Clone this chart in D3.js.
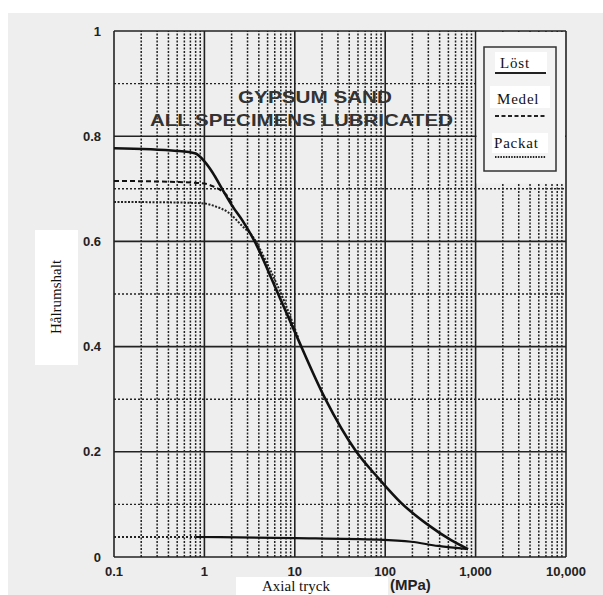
<!DOCTYPE html>
<html><head><meta charset="utf-8">
<script src="https://cdnjs.cloudflare.com/ajax/libs/d3/7.8.5/d3.min.js"></script>
<style>html,body{margin:0;padding:0;background:#fff;}svg{display:block;}</style>
</head><body>
<svg id="c" width="603" height="595"></svg>
<script>
// ---- data ----
const yTicks = [0, 0.2, 0.4, 0.6, 0.8, 1];
const yTickLabels = ["0", "0.2", "0.4", "0.6", "0.8", "1"];
const xTicks = [0.1, 1, 10, 100, 1000, 10000];
const xTickLabels = ["0.1", "1", "10", "100", "1,000", "10,000"];

// Löst (loading + unloading)
const lostPressure = [0.1, 0.5, 0.8, 1.0, 1.23, 1.58, 2.04, 2.63, 3.6, 6, 10, 21.4, 48, 84, 150, 298, 536, 825];
const lostVoid     = [0.777, 0.772, 0.767, 0.752, 0.731, 0.699, 0.667, 0.640, 0.600, 0.515, 0.428, 0.303, 0.200, 0.150, 0.103, 0.061, 0.032, 0.015];
const unloadPressure = [0.8, 10, 84, 194, 385, 825];
const unloadVoid     = [0.038, 0.036, 0.033, 0.029, 0.021, 0.015];
const unloadExtPressure = [0.1, 0.8];
const unloadExtVoid     = [0.038, 0.038];
// Medel
const medelPressure = [0.1, 0.5, 1.0, 1.23, 1.58, 1.84, 2.1];
const medelVoid     = [0.715, 0.713, 0.710, 0.705, 0.695, 0.684, 0.664];
// Packat
const packatPressure = [0.1, 0.5, 1.0, 1.3, 1.84, 2.63, 3.4, 5, 8, 11];
const packatVoid     = [0.675, 0.674, 0.672, 0.667, 0.655, 0.629, 0.610, 0.556, 0.478, 0.415];

const legendLabels = ["Löst", "Medel", "Packat"];

// ---- drawing ----
const svg = d3.select("#c");
svg.append("rect").attr("x", 8).attr("y", 13).attr("width", 595).attr("height", 582).attr("fill", "#eeeeee");

const x = d3.scaleLog().domain([0.1, 10000]).range([114, 566]);
const y = d3.scaleLinear().domain([0, 1]).range([557, 31]);

const g = svg.append("g");
// minor vertical grid
const minors = [];
for (let e = -1; e < 4; e++) for (let k = 2; k <= 9; k++) minors.push(k * Math.pow(10, e));
g.selectAll("line.vmin").data(minors).join("line")
  .attr("x1", d => x(d)).attr("x2", d => x(d)).attr("y1", y(0)).attr("y2", y(1))
  .attr("stroke", "#222").attr("stroke-width", 1.5).attr("stroke-dasharray", "2,1.5");
// horizontal minor
const hMinor = [0.1, 0.3, 0.5, 0.7, 0.9];
g.selectAll("line.hmin").data(hMinor).join("line")
  .attr("x1", x(0.1)).attr("x2", x(10000)).attr("y1", d => y(d)).attr("y2", d => y(d))
  .attr("stroke", "#222").attr("stroke-width", 1.4).attr("stroke-dasharray", "2,2");
// major vertical
g.selectAll("line.vmaj").data(xTicks).join("line")
  .attr("x1", d => x(d)).attr("x2", d => x(d)).attr("y1", y(0)).attr("y2", y(1))
  .attr("stroke", "#222").attr("stroke-width", 1.6);
// major horizontal
g.selectAll("line.hmaj").data(yTicks).join("line")
  .attr("x1", x(0.1)).attr("x2", x(10000)).attr("y1", d => y(d)).attr("y2", d => y(d))
  .attr("stroke", "#222").attr("stroke-width", 1.6);

// legend cover
svg.append("rect").attr("x", x(1000) + 1).attr("y", y(1) + 1)
  .attr("width", x(10000) - x(1000) - 2).attr("height", y(0.71) - y(1) - 1).attr("fill", "#f3f3f3");

// axes tick labels
const lblFont = "'Liberation Sans', Arial, sans-serif";
svg.selectAll("text.yt").data(yTicks).join("text")
  .attr("x", 101).attr("y", d => y(d)).attr("dy", "0.35em")
  .attr("text-anchor", "end").attr("font-family", lblFont).attr("font-weight", "bold")
  .attr("font-size", 13).attr("fill", "#222").text((d, i) => yTickLabels[i]);
svg.selectAll("text.xt").data(xTicks).join("text")
  .attr("x", d => x(d)).attr("y", 576)
  .attr("text-anchor", "middle").attr("font-family", lblFont).attr("font-weight", "bold")
  .attr("font-size", 13).attr("fill", "#222").text((d, i) => xTickLabels[i]);

// curves
const line = d3.line().x(d => x(d[0])).y(d => y(d[1])).curve(d3.curveMonotoneX);
const zip = (a, b) => a.map((v, i) => [v, b[i]]);

svg.append("path").attr("d", line(zip(unloadExtPressure, unloadExtVoid)))
  .attr("fill", "none").attr("stroke", "#222").attr("stroke-width", 1.8).attr("stroke-dasharray", "2,2");
svg.append("path").attr("d", line(zip(unloadPressure, unloadVoid)))
  .attr("fill", "none").attr("stroke", "#111").attr("stroke-width", 2.2);
svg.append("path").attr("d", line(zip(packatPressure, packatVoid)))
  .attr("fill", "none").attr("stroke", "#222").attr("stroke-width", 2).attr("stroke-dasharray", "2,1.5");
svg.append("path").attr("d", line(zip(medelPressure, medelVoid)))
  .attr("fill", "none").attr("stroke", "#111").attr("stroke-width", 2).attr("stroke-dasharray", "5,3");
svg.append("path").attr("d", line(zip(lostPressure, lostVoid)))
  .attr("fill", "none").attr("stroke", "#111").attr("stroke-width", 2.6);

// title
const tFont = "'Liberation Sans', Arial, sans-serif";
svg.append("text").attr("x", 238).attr("y", 103).attr("font-family", tFont).attr("font-weight", "bold")
  .attr("font-size", 17).attr("fill", "#333").attr("textLength", 154).attr("lengthAdjust", "spacingAndGlyphs")
  .text("GYPSUM SAND");
svg.append("text").attr("x", 150).attr("y", 126).attr("font-family", tFont).attr("font-weight", "bold")
  .attr("font-size", 17).attr("fill", "#333").attr("textLength", 303).attr("lengthAdjust", "spacingAndGlyphs")
  .text("ALL SPECIMENS LUBRICATED");

// legend
svg.append("rect").attr("x", 484).attr("y", 47).attr("width", 72).attr("height", 124)
  .attr("fill", "none").attr("stroke", "#333").attr("stroke-width", 1.5);
const serif = "'Liberation Serif', 'Times New Roman', serif";
const leg = [
  {box: [495, 52, 52, 21], tx: 500, ty: 68, ly: 73, dash: null, w: 2.2},
  {box: [490, 86, 60, 22], tx: 497, ty: 104, ly: 116, dash: "4,2.5", w: 1.8},
  {box: [492, 133, 56, 20], tx: 494, ty: 148, ly: 157, dash: "1.5,1.2", w: 1.8}
];
leg.forEach((L, i) => {
  svg.append("rect").attr("x", L.box[0]).attr("y", L.box[1]).attr("width", L.box[2]).attr("height", L.box[3]).attr("fill", "#fff");
  svg.append("text").attr("x", L.tx).attr("y", L.ty).attr("font-family", serif).attr("font-size", 15)
    .attr("letter-spacing", 0.8).attr("fill", "#111").text(legendLabels[i]);
  const ln = svg.append("line").attr("x1", 495).attr("x2", 546).attr("y1", L.ly).attr("y2", L.ly)
    .attr("stroke", "#222").attr("stroke-width", L.w);
  if (L.dash) ln.attr("stroke-dasharray", L.dash);
});

// y axis title
svg.append("rect").attr("x", 35).attr("y", 230).attr("width", 43).attr("height", 135).attr("fill", "#fff");
svg.append("text").attr("transform", "translate(61,297) rotate(-90)").attr("text-anchor", "middle")
  .attr("font-family", serif).attr("font-size", 15).attr("fill", "#111").text("Hålrumshalt");

// x axis title
svg.append("rect").attr("x", 236).attr("y", 577).attr("width", 152).attr("height", 18).attr("fill", "#fff");
svg.append("text").attr("x", 262).attr("y", 591).attr("font-family", serif).attr("font-size", 15)
  .attr("fill", "#111").text("Axial tryck");
svg.append("text").attr("x", 390).attr("y", 590).attr("font-family", tFont).attr("font-weight", "bold")
  .attr("font-size", 15).attr("fill", "#222").text("(MPa)");
</script>
</body></html>
